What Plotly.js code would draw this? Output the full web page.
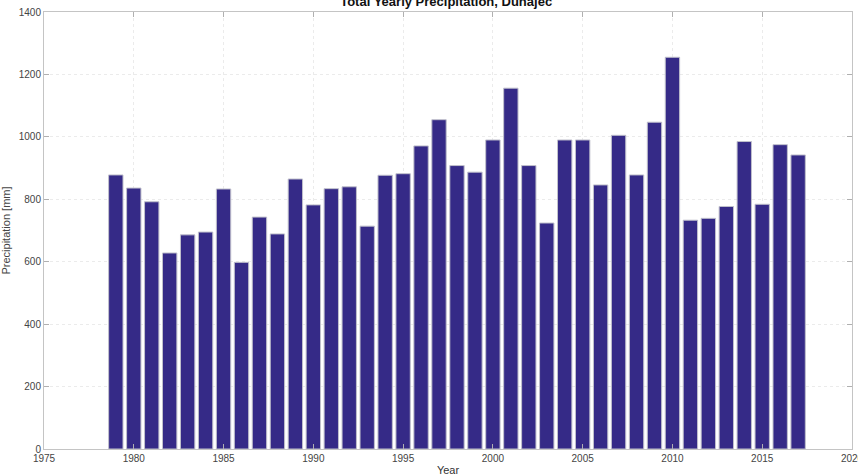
<!DOCTYPE html>
<html><head><meta charset="utf-8">
<script src="https://cdn.plot.ly/plotly-3.0.1.min.js"></script>
<style>html,body{margin:0;padding:0;background:#fff;overflow:hidden}#chart{width:858px;height:476px}</style>
</head><body><div id="chart"></div>
<script>
const years = [1979,1980,1981,1982,1983,1984,1985,1986,1987,1988,1989,1990,1991,1992,1993,1994,1995,1996,1997,1998,1999,2000,2001,2002,2003,2004,2005,2006,2007,2008,2009,2010,2011,2012,2013,2014,2015,2016,2017];
const precipitation = [878,836,792,628,686,695,833,598,743,689,865,782,834,840,714,877,882,971,1055,908,887,990,1156,908,724,990,990,846,1005,878,1047,1255,733,739,777,985,784,975,942];
const xTicks = [1975,1980,1985,1990,1995,2000,2005,2010,2015,2020];
const yTicks = [0,200,400,600,800,1000,1200,1400];

const trace = {
  type: 'bar', x: years, y: precipitation, width: 0.8,
  marker: {color: '#352A87', line: {color: '#c0c0cc', width: 1}},
  hoverinfo: 'x+y'
};
const axisCommon = {
  showline: true, linecolor: '#c4c4c4', linewidth: 1, mirror: 'ticks',
  ticks: 'inside', ticklen: 5, tickcolor: '#b0b0b0',
  showgrid: true, gridcolor: 'rgba(0,0,0,0.08)', griddash: 'dot', gridwidth: 1,
  zeroline: false, ticklabeloverflow: 'allow',
  tickfont: {family: 'Liberation Sans, Arial, sans-serif', size: 10, color: '#444'}
};
const layout = {
  width: 858, height: 476,
  margin: {l: 44, r: 6, t: 12, b: 27},
  paper_bgcolor: '#fff', plot_bgcolor: '#fff',
  showlegend: false, bargap: 0,
  title: {text: '<b>Total Yearly Precipitation, Dunajec</b>', x: 0.52, xanchor: 'center', y: 0.998, yanchor: 'middle',
    font: {family: 'Liberation Sans, Arial, sans-serif', size: 13, color: '#111'}},
  xaxis: Object.assign({}, axisCommon, {range: [1975, 2020], tickvals: xTicks, ticktext: xTicks.map(String),
    title: {text: 'Year', standoff: 6, font: {family: 'Liberation Sans, Arial, sans-serif', size: 11, color: '#333'}}}),
  yaxis: Object.assign({}, axisCommon, {range: [0, 1400], tickvals: yTicks, ticktext: yTicks.map(String),
    title: {text: 'Precipitation [mm]', standoff: 6, font: {family: 'Liberation Sans, Arial, sans-serif', size: 11, color: '#444'}}})
};
Plotly.newPlot('chart', [trace], layout, {displayModeBar: false, staticPlot: true});
</script></body></html>
